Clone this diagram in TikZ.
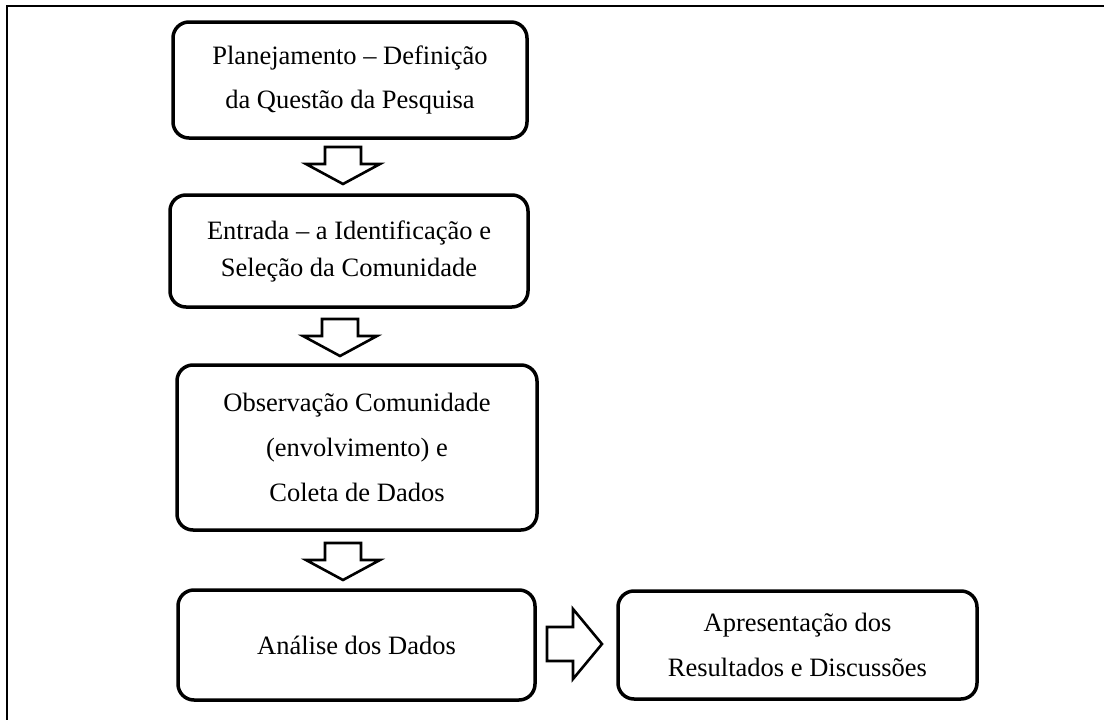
\documentclass[tikz,border=0pt]{standalone}
\usepackage{fontspec}
\setmainfont{Liberation Serif}

\tikzset{
  etapa/.style={draw, line width=3.5pt, rounded corners=16pt, align=center, inner sep=0pt, font=\fontsize{26.5}{44}\selectfont},
  seta/.style={draw, line width=2.6pt, fill=white, line join=miter},
}

\begin{document}
\begin{tikzpicture}[x=1pt, y=-1pt]
\useasboundingbox (0,0) rectangle (1104,720);
\pgfmathsetmacro{\sw}{18} % half shaft width (down arrows)
\pgfmathsetmacro{\hw}{37} % half head width (down arrows)

\draw[line width=2pt] (7,730) -- (7,6) -- (1110,6); % frame

\node[etapa, minimum width=354, minimum height=116] (plan) at (350,80) {Planejamento – Definição\\da Questão da Pesquisa};
\node[etapa, minimum width=358, minimum height=112, font=\fontsize{26.5}{37}\selectfont] (entrada) at (349,251) {Entrada – a Identificação e\\Seleção da Comunidade};
\node[etapa, minimum width=360, minimum height=165, font=\fontsize{26.5}{45}\selectfont] (obs) at (357,447.5) {Observação Comunidade\\(envolvimento) e\\Coleta de Dados};
\node[etapa, minimum width=357, minimum height=110] (analise) at (356.5,645) {Análise dos Dados};
\node[etapa, minimum width=359, minimum height=108, font=\fontsize{26.5}{45}\selectfont] (result) at (797.5,645) {Apresentação dos\\Resultados e Discussões};

% block arrows
\coordinate (a1) at (343,147);
\coordinate (a2) at (340,319);
\coordinate (a3) at (343,543);
\foreach \a in {a1,a2,a3}
  \draw[seta] (\a) ++(-\sw,0) -- ++(0,17) -- ++(\sw-\hw,0) -- ++(\hw,20) -- ++(\hw,-20) -- ++(\sw-\hw,0) -- ++(0,-17) -- cycle;

\coordinate (a4) at (547,644);
\draw[seta] (a4) ++(0,-17) -- ++(26,0) -- ++(0,-18) -- ++(29,35) -- ++(-29,35) -- ++(0,-18) -- ++(-26,0) -- cycle;

\end{tikzpicture}
\end{document}
